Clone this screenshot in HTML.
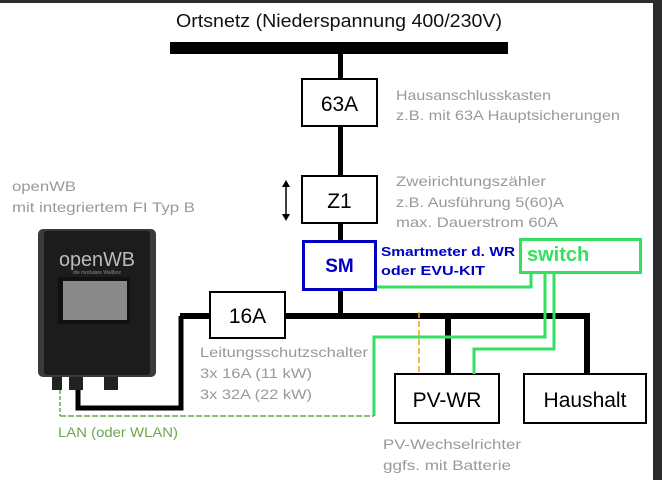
<!DOCTYPE html>
<html><head><meta charset="utf-8"><style>
html,body{margin:0;padding:0;background:#fff;}
svg{display:block;}
text{font-family:"Liberation Sans",sans-serif;}
</style></head><body>
<svg width="662" height="480" viewBox="0 0 662 480" xmlns="http://www.w3.org/2000/svg">
<rect x="0" y="0" width="662" height="480" fill="#fff"/>
<rect x="0" y="0" width="662" height="3" fill="#2b2b2b"/>
<rect x="653" y="0" width="9" height="480" fill="#2b2b2b"/>

<text x="176" y="27" font-size="18" fill="#111" textLength="326" lengthAdjust="spacingAndGlyphs">Ortsnetz (Niederspannung 400/230V)</text>
<rect x="170" y="42" width="338" height="12" fill="#000"/>
<rect x="338" y="54" width="5" height="262" fill="#000"/>

<rect x="302" y="79" width="75" height="47" fill="#fff" stroke="#000" stroke-width="2"/>
<text x="339.5" y="111" font-size="21" text-anchor="middle" fill="#000">63A</text>
<text x="396" y="100" font-size="14" fill="#999" textLength="155" lengthAdjust="spacingAndGlyphs">Hausanschlusskasten</text>
<text x="396" y="120" font-size="14" fill="#999" textLength="224" lengthAdjust="spacingAndGlyphs">z.B. mit 63A Hauptsicherungen</text>

<rect x="302" y="176" width="75" height="47" fill="#fff" stroke="#000" stroke-width="2"/>
<text x="339.5" y="208" font-size="21" text-anchor="middle" fill="#000">Z1</text>
<line x1="286" y1="186" x2="286" y2="215" stroke="#000" stroke-width="1.5"/>
<polygon points="282,187 290,187 286,180" fill="#000"/>
<polygon points="282,214 290,214 286,221" fill="#000"/>
<text x="396" y="186" font-size="14" fill="#999" textLength="150" lengthAdjust="spacingAndGlyphs">Zweirichtungszähler</text>
<text x="396" y="207" font-size="14" fill="#999" textLength="168" lengthAdjust="spacingAndGlyphs">z.B. Ausführung 5(60)A</text>
<text x="396" y="227" font-size="14" fill="#999" textLength="162" lengthAdjust="spacingAndGlyphs">max. Dauerstrom 60A</text>

<rect x="303.5" y="241.5" width="72" height="48" fill="#fff" stroke="#0000c0" stroke-width="3"/>
<text x="339.5" y="272" font-size="19" font-weight="bold" text-anchor="middle" fill="#0000c0">SM</text>
<text x="381" y="256" font-size="13" font-weight="bold" fill="#0000c0" textLength="134" lengthAdjust="spacingAndGlyphs">Smartmeter d. WR</text>
<text x="381" y="275" font-size="13" font-weight="bold" fill="#0000c0" textLength="104" lengthAdjust="spacingAndGlyphs">oder EVU-KIT</text>

<rect x="180" y="313" width="410" height="6" fill="#000"/>
<rect x="584" y="313" width="6" height="62" fill="#000"/>
<rect x="445" y="313" width="6" height="62" fill="#000"/>
<line x1="419" y1="312" x2="419" y2="374" stroke="#f0a800" stroke-width="1.5" stroke-dasharray="6,3"/>

<polyline points="78,385 78,408 181,408 181,316" fill="none" stroke="#000" stroke-width="5"/>
<rect x="210" y="292" width="75" height="46" fill="#fff" stroke="#000" stroke-width="2"/>
<text x="247.5" y="323" font-size="21" text-anchor="middle" fill="#000">16A</text>
<text x="200" y="357" font-size="14" fill="#999" textLength="168" lengthAdjust="spacingAndGlyphs">Leitungsschutzschalter</text>
<text x="200" y="378" font-size="14" fill="#999" textLength="112" lengthAdjust="spacingAndGlyphs">3x 16A (11 kW)</text>
<text x="200" y="399" font-size="14" fill="#999" textLength="112" lengthAdjust="spacingAndGlyphs">3x 32A (22 kW)</text>

<rect x="395" y="374" width="104" height="49" fill="#fff" stroke="#000" stroke-width="2"/>
<text x="447" y="407" font-size="21" text-anchor="middle" fill="#000">PV-WR</text>
<rect x="524" y="374" width="122" height="49" fill="#fff" stroke="#000" stroke-width="2"/>
<text x="585" y="407" font-size="21" text-anchor="middle" fill="#000">Haushalt</text>
<text x="383" y="449" font-size="14" fill="#999" textLength="138" lengthAdjust="spacingAndGlyphs">PV-Wechselrichter</text>
<text x="383" y="470" font-size="14" fill="#999" textLength="128" lengthAdjust="spacingAndGlyphs">ggfs. mit Batterie</text>

<rect x="520.5" y="239.5" width="120" height="33" fill="#fff" stroke="#33e060" stroke-width="3"/>
<text x="527" y="261" font-size="20" font-weight="bold" fill="#33e060">switch</text>
<g fill="none" stroke="#33e060" stroke-width="3">
<polyline points="531,272 531,287 377,287"/>
<polyline points="545,272 545,337 374,337 374,416"/>
<polyline points="554,272 554,349 474,349 474,374"/>
</g>
<line x1="60" y1="416" x2="374" y2="416" stroke="#6aa84f" stroke-width="1.5" stroke-dasharray="6,2"/>
<line x1="60" y1="390" x2="60" y2="416" stroke="#6aa84f" stroke-width="1.5" stroke-dasharray="4,2"/>
<text x="58" y="437" font-size="14" fill="#6aa84f" textLength="120" lengthAdjust="spacingAndGlyphs">LAN (oder WLAN)</text>

<text x="12" y="191" font-size="14" fill="#999" textLength="64" lengthAdjust="spacingAndGlyphs">openWB</text>
<text x="12" y="212" font-size="14" fill="#999" textLength="183" lengthAdjust="spacingAndGlyphs">mit integriertem FI Typ B</text>
<rect x="38" y="229" width="118" height="148" rx="5" fill="#3a3a3a"/>
<rect x="44" y="231" width="106" height="144" rx="3" fill="#1c1c1c"/>
<text x="97" y="266" font-size="20" fill="#bbb" text-anchor="middle" textLength="76" lengthAdjust="spacingAndGlyphs">openWB</text>
<text x="97" y="274" font-size="5" fill="#888" text-anchor="middle">die modulare Wallbox</text>
<rect x="58" y="277" width="72" height="47" fill="#111"/>
<rect x="63" y="281" width="64" height="39" fill="#8a8a8a"/>
<rect x="52" y="377" width="10" height="13" fill="#222"/>
<rect x="69" y="377" width="14" height="13" fill="#222"/>
<rect x="104" y="377" width="14" height="13" fill="#222"/>
</svg>
</body></html>
